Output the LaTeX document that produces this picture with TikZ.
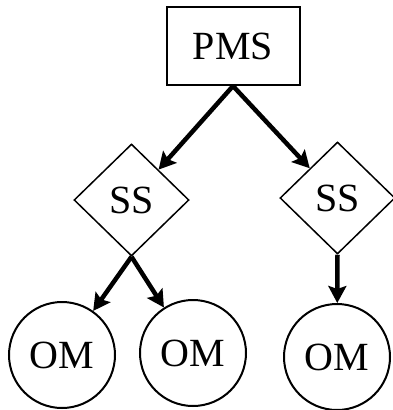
\documentclass[tikz,border=0pt]{standalone}
\usepackage{fontspec}
\setmainfont{Liberation Serif}
\usetikzlibrary{shapes.geometric,arrows.meta}
\tikzset{
  base/.style={draw, line width=2pt, inner sep=0pt,
               font=\fontsize{40}{40}\selectfont},
  pmsbox/.style={base, rectangle, minimum width=133pt, minimum height=78pt},
  ssbox/.style={base, diamond, line width=1.5pt, minimum width=115pt, minimum height=112pt},
  ombox/.style={base, circle, minimum size=106pt},
  link/.style={line width=4.5pt,
               -{Stealth[length=17pt, width=18pt, inset=3pt]}}
}
\begin{document}
\begin{tikzpicture}[x=1pt, y=-1pt]
  \useasboundingbox (0,0) rectangle (393,410);
  \node[pmsbox] (pms) at (233,46) {PMS};
  \node[ssbox]  (ssL) at (131.5,200) {SS};
  \node[ssbox]  (ssR) at (337.5,198) {SS};
  \node[ombox]  (omL) at (62,355) {OM};
  \node[ombox]  (omM) at (193,353) {OM};
  \node[ombox]  (omR) at (337,357) {OM};
  \draw[link] (pms.south) -- (ssL);
  \draw[link] (pms.south) -- (ssR);
  \draw[link] (ssL.south) -- (omL);
  \draw[link] (ssL.south) -- (omM);
  \draw[link] (ssR.south) -- (omR);
\end{tikzpicture}
\end{document}
